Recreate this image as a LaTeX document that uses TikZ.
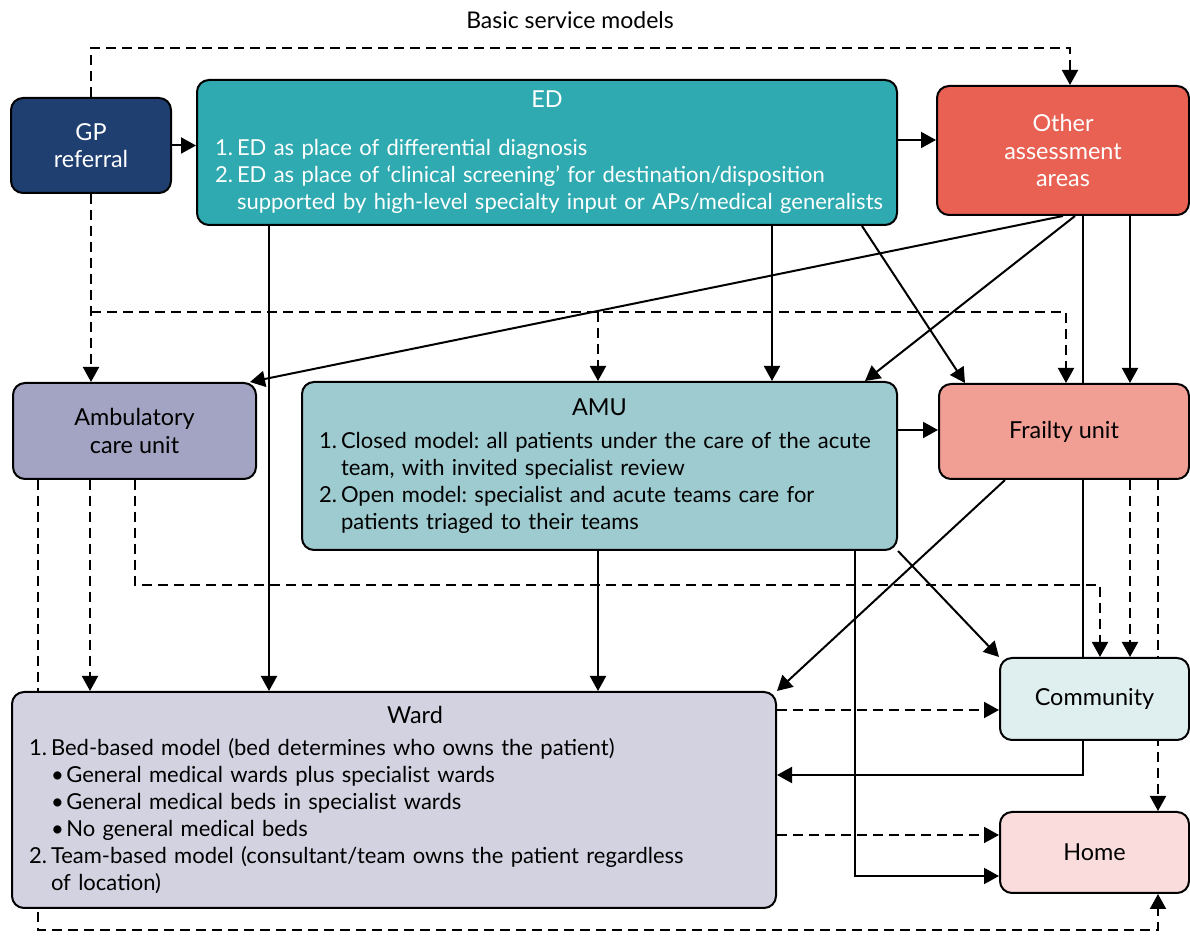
\documentclass[tikz,border=0pt]{standalone}
\usepackage{fontspec}
\setmainfont{Lato}
\usepackage{tikz}
\usetikzlibrary{arrows.meta,backgrounds}

\definecolor{gpblue}{HTML}{1E3F70}
\definecolor{edteal}{HTML}{2EAAB0}
\definecolor{othred}{HTML}{E96153}
\definecolor{ambpurple}{HTML}{A3A3C3}
\definecolor{amuteal}{HTML}{9ECBD0}
\definecolor{frailpink}{HTML}{F19E95}
\definecolor{commblue}{HTML}{DFEEEF}
\definecolor{homepink}{HTML}{F9DCDB}
\definecolor{wardgrey}{HTML}{D3D2E1}

\newcommand{\numitem}[2]{\par\hangindent=1em\hangafter=1\noindent\makebox[1em][l]{#1}#2\par}
\newcommand{\bulitem}[1]{\par\hangindent=1.7em\hangafter=1\noindent\hspace*{1em}\makebox[0.7em][l]{\textbullet}#1\par}
\frenchspacing

\begin{document}
\begin{tikzpicture}[x=0.5pt,y=-0.5pt,
		font=\fontsize{11}{13.5}\selectfont,
		unit/.style={draw=black,line width=1pt,rounded corners=6pt,inner sep=0pt,align=center,font=\fontsize{11.7}{13.8}\selectfont},
		listunit/.style={unit,inner xsep=8.5pt,align=left,font=\fontsize{11}{13.5}\selectfont},
		flow/.style={line width=1pt,-{Triangle[length=7.5pt,width=8pt]}},
		dflow/.style={flow,dash pattern=on 5pt off 3pt}]
		\useasboundingbox (0,0) rectangle (1190,945);

		\node[font=\fontsize{11.5}{13.5}\selectfont] (title) at (570,20) {Basic service models};

		\node[unit,fill=gpblue,text=white,minimum width=80pt,minimum height=47.5pt] (gp) at (91,145.5) {GP\\referral};
		\node[listunit,fill=edteal,text=white,inner xsep=5pt,text width=340pt,minimum height=72.5pt] (ed) at (547,152.5) {\leftskip=4pt\vspace*{3pt}{\centering\fontsize{11.7}{13.5}\selectfont ED\par}\vspace{7.5pt}%
			\numitem{1.}{ED as place of differential diagnosis}%
			\numitem{2.}{ED as place of ‘clinical screening’ for destination/disposition\newline supported by high-level specialty input or APs/medical generalists}};
		\node[unit,fill=othred,text=white,minimum width=126pt,minimum height=64.5pt] (other) at (1063,150.5) {Other\\assessment\\areas};

		\node[unit,fill=ambpurple,minimum width=121.5pt,minimum height=48pt] (amb) at (134.5,431) {Ambulatory\\care unit};
		\node[listunit,fill=amuteal,text width=280.5pt,minimum height=84pt] (amu) at (599.5,466) {{\centering\fontsize{11.7}{13.5}\selectfont AMU\par}\vspace{3pt}%
			\numitem{1.}{Closed model: all patients under the care of the acute\newline team, with invited specialist review}%
			\numitem{2.}{Open model: specialist and acute teams care for\newline patients triaged to their teams}};
		\node[unit,fill=frailpink,minimum width=125pt,minimum height=47.5pt] (frail) at (1064,431.5) {Frailty unit};

		\node[unit,fill=commblue,minimum width=94.5pt,minimum height=41pt] (comm) at (1094.5,699) {Community};
		\node[unit,fill=homepink,minimum width=94.5pt,minimum height=40.5pt] (home) at (1094.5,852.5) {Home};
		\node[listunit,fill=wardgrey,text width=365pt,minimum height=108pt] (ward) at (394,800) {{\centering\fontsize{11.7}{13.5}\selectfont\hspace*{21pt}Ward\par}\vspace{2.5pt}%
			\numitem{1.}{Bed-based model (bed determines who owns the patient)}%
			\bulitem{General medical wards plus specialist wards}%
			\bulitem{General medical beds in specialist wards}%
			\bulitem{No general medical beds}%
			\numitem{2.}{Team-based model (consultant/team owns the patient regardless\newline of location)}};

		\coordinate (amufork) at (598,312);

		\begin{scope}[on background layer]
			% solid routes
			\draw[flow] (gp.east) -- (gp.east -| ed.west);
			\draw[flow] (ed.east |- 0,140) -- (other.west |- 0,140);
			\draw[flow] (ed.south -| 269,0) -- (ward.north -| 269,0);
			\draw[flow] (ed.south -| 772,0) -- (amu.north -| 772,0);
			\draw[flow] (ed.south -| 862,0) -- (frail.north -| 965,0);
			\draw[flow] (other.south -| 1063,0) -- (amb.north -| 250,0);
			\draw[flow] (other.south -| 1075,0) -- (amu.north -| 865,0);
			\draw[flow] (other.south -| 1083,0) |- (ward.east |- 0,775);
			\draw[flow] (other.south -| 1130,0) -- (frail.north -| 1130,0);
			\draw[flow] (amu.east |- 0,430) -- (frail.west |- 0,430);
			\draw[flow] (amu.south -| 598,0) -- (ward.north -| 598,0);
			\draw[flow] (amu.south east) -- (comm.north west);
			\draw[flow] (amu.south -| 855,0) |- (home.west |- 0,876);
			\draw[flow] (frail.south -| 1005,0) -- (ward.north east);
			% dashed routes
			\draw[dflow] (gp.north) -- (gp.north |- 0,48) -| (other.north -| 1070,0);
			\draw[dflow] (gp.south) -- (amb.north -| gp.south);
			\draw[dflow] (gp.south |- amufork) -| (frail.north -| 1066,0);
			\draw[dflow] (amufork) -- (amu.north -| amufork);
			\draw[dflow] (amb.south -| 135,0) |- (1100,585) -- (comm.north -| 1100,0);
			\draw[dflow] (amb.south -| 90,0) -- (ward.north -| 90,0);
			\draw[dflow] (amb.south -| 38,0) |- (1158,930) -- (home.south -| 1158,0);
			\draw[dflow] (frail.south -| 1130,0) -- (comm.north -| 1130,0);
			\draw[dflow] (frail.south -| 1158,0) -- (home.north -| 1158,0);
			\draw[dflow] (ward.east |- 0,710) -- (comm.west |- 0,710);
			\draw[dflow] (ward.east |- 0,835) -- (home.west |- 0,835);
		\end{scope}
	\end{tikzpicture}
\end{document}
